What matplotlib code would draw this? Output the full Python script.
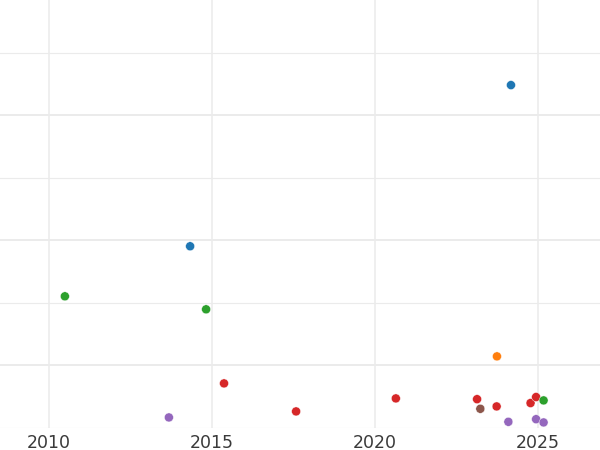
import matplotlib.pyplot as plt
from matplotlib.ticker import MultipleLocator

# data (year, value, colour group)
years = [2024.17, 2014.33, 2010.49, 2014.82, 2023.74, 2015.37, 2013.68, 2017.58,
         2020.64, 2023.13, 2023.23, 2023.73, 2024.09, 2024.77, 2024.94, 2025.17,
         2024.94, 2025.17]
values = [324.0, 195.2, 155.2, 144.8, 107.2, 85.6, 58.4, 63.2,
          73.6, 73.0, 65.3, 67.2, 54.9, 69.9, 74.7, 72.0,
          57.0, 54.4]
groups = ['blue', 'blue', 'green', 'green', 'orange', 'red', 'purple', 'red',
          'red', 'red', 'brown', 'red', 'purple', 'red', 'red', 'green',
          'purple', 'purple']

palette = {'blue': '#1f77b4', 'orange': '#ff7f0e', 'green': '#2ca02c',
           'red': '#d62728', 'purple': '#9467bd', 'brown': '#8c564b'}


def make_chart():
    fig = plt.figure(figsize=(6, 4.5), dpi=100)
    ax = fig.add_axes([0, 0.049, 1, 0.951])

    ax.scatter(years, values, c=[palette[g] for g in groups], s=42,
               edgecolors='white', linewidths=0.3, zorder=3)

    ax.set_xlim(2008.5, 2026.9)
    ax.set_ylim(50, 100 + 365 * 0.8)

    ax.xaxis.set_major_locator(MultipleLocator(5))
    ax.yaxis.set_major_locator(MultipleLocator(100))
    ax.yaxis.set_minor_locator(MultipleLocator(50))

    ax.grid(axis='x', which='major', color='#ebebeb', linewidth=1.1)
    ax.grid(axis='y', which='major', color='#ebebeb', linewidth=1.4)
    ax.grid(axis='y', which='minor', color='#ebebeb', linewidth=0.8)
    ax.set_axisbelow(True)

    for s in ax.spines.values():
        s.set_visible(False)
    ax.tick_params(axis='both', which='both', length=0)
    ax.tick_params(axis='x', labelsize=12.5, labelcolor='#3a3a3a', pad=4)
    ax.set_yticklabels([])

    fig.savefig('out.png', dpi=100)
    plt.close(fig)


if __name__ == '__main__':
    make_chart()
